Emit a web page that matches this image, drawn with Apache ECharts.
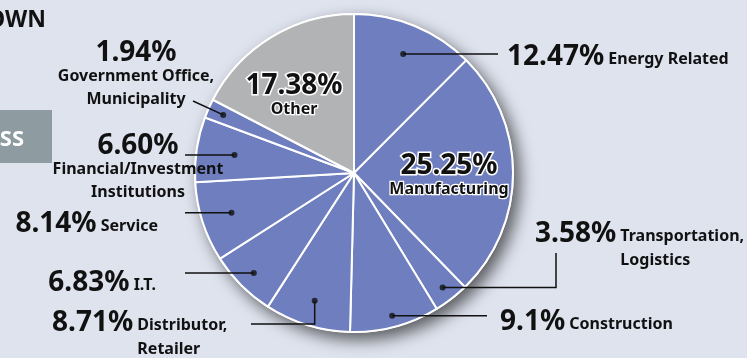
<!DOCTYPE html>
<html>
<head>
<meta charset="utf-8">
<title>Breakdown by industry</title>
<style>
  html, body { margin: 0; padding: 0; background: #dfe3ee; }
  #chart { width: 747px; height: 358px; }
</style>
<script src="https://cdn.jsdelivr.net/npm/echarts@6/dist/echarts.min.js"></script>
</head>
<body>
<div id="chart"></div>
<script>
// data, clockwise from 12 o'clock
const industries = ['Energy Related', 'Manufacturing', 'Transportation, Logistics', 'Construction',
  'Distributor, Retailer', 'I.T.', 'Service', 'Financial/Investment Institutions',
  'Government Office, Municipality', 'Other'];
const shares = [12.47, 25.25, 3.58, 9.1, 8.71, 6.83, 8.14, 6.60, 1.94, 17.38];
const shareLabels = ['12.47%', '25.25%', '3.58%', '9.1%', '8.71%', '6.83%', '8.14%', '6.60%', '1.94%', '17.38%'];
const nameLines = [['Energy Related'], ['Manufacturing'], ['Transportation,', 'Logistics'], ['Construction'],
  ['Distributor,', 'Retailer'], ['I.T.'], ['Service'], ['Financial/Investment', 'Institutions'],
  ['Government Office,', 'Municipality'], ['Other']];

// layout of the labels (pixels), kept apart from the data
const CX = 354, CY = 173, R = 159;
const FONT = 'Noto Sans';
const BLUE = '#6e7ebe', GREY = '#b1b3b5';
const spots = [
  { kind: 'side',   x: 507, y: 45,  align: 'left',   dot: 0.81, bends: [[498, null]] },
  { kind: 'inside', x: 449, y: 154, align: 'center' },
  { kind: 'side',   x: 535, y: 222, align: 'left',   dot: 0.91, bends: [[556, null], [null, 253]] },
  { kind: 'side',   x: 500, y: 310, align: 'left',   dot: 0.93, bends: [[487, null]] },
  { kind: 'side',   x: 52,  y: 311, align: 'left',   dot: 0.84, bends: [[null, 324], [251, null]] },
  { kind: 'side',   x: 156, y: 271, align: 'right',  dot: 0.89, bends: [[185, null]] },
  { kind: 'side',   x: 158, y: 212, align: 'right',  dot: 0.81, bends: [[185, null]] },
  { kind: 'stack',  x: 138, y: 134, align: 'center', dot: 0.76, bends: [[185, null]] },
  { kind: 'stack',  x: 136, y: 41,  align: 'center', dot: 0.90, bends: [[193, 101]] },
  { kind: 'inside', x: 294, y: 74,  align: 'center' }
];

const measure = document.createElement('canvas').getContext('2d');
function textWidth(str, size) {
  measure.font = 'bold ' + size + 'px ' + FONT;
  return measure.measureText(str).width;
}

function makeRich(kind, gap) {
  const outline = kind === 'inside';
  const side = kind === 'side';
  const base = { fontFamily: FONT, fontWeight: 'bold', color: '#111', verticalAlign: 'bottom',
    align: side ? undefined : 'center',
    textBorderColor: outline ? '#fff' : undefined };
  return {
    p: Object.assign({}, base, { fontSize: 28, lineHeight: 26, textBorderWidth: outline ? 3 : 0 }),
    // first name line under a share (stacked labels)
    f: Object.assign({}, base, { fontSize: 16, lineHeight: 17, textBorderWidth: outline ? 2.5 : 0 }),
    // further name lines
    n: Object.assign({}, base, { fontSize: 16, lineHeight: side ? 20 : 23, textBorderWidth: outline ? 2.5 : 0 }),
    // name beside the share
    m: Object.assign({}, base, { fontSize: 16, lineHeight: 20, padding: [0, 0, 4, 0] }),
    gap: { width: gap || 0, fontSize: 16, lineHeight: 20 }
  };
}

function labelText(i) {
  const s = spots[i];
  const lines = nameLines[i];
  if (s.kind === 'side') {
    let t = '{p|' + shareLabels[i] + '} {m|' + lines[0] + '}';
    for (let k = 1; k < lines.length; k++) t += '\n{gap| }{n|' + lines[k] + '}';
    return t;
  }
  return '{p|' + shareLabels[i] + '}' + lines.map((l, k) => '\n{' + (k ? 'n' : 'f') + '|' + l + '}').join('');
}

// mid angle of every slice, in share units, for the leader dots
const dotData = [];
let run = 0;
shares.forEach((v, i) => {
  if (spots[i].dot) dotData.push([spots[i].dot, run + v / 2]);
  run += v;
});

const chart = echarts.init(document.getElementById('chart'));

const option = {
  backgroundColor: '#dfe3ee',
  animation: false,
  polar: { center: [CX, CY], radius: R },
  angleAxis: { type: 'value', min: 0, max: 100, startAngle: 90, clockwise: true, show: false },
  radiusAxis: { type: 'value', min: 0, max: 1, show: false },
  graphic: [
    { type: 'text', style: { x: 46, y: 20, text: 'OWN', align: 'right', verticalAlign: 'middle',
      font: 'bold 23px ' + FONT, fill: '#111' } },
    { type: 'rect', shape: { x: 0, y: 110, width: 52, height: 53 }, style: { fill: '#8e9ba1' } },
    { type: 'text', style: { x: 24, y: 140, text: 'SS', align: 'right', verticalAlign: 'middle',
      font: 'bold 22px ' + FONT, fill: '#fff' } }
  ],
  series: [
    {
      // drop shadow under the whole pie
      type: 'pie', center: [CX, CY], radius: R + 1, silent: true, z: 1,
      label: { show: false }, labelLine: { show: false },
      itemStyle: { color: '#fff', shadowBlur: 16, shadowColor: 'rgba(0,0,0,0.6)', shadowOffsetX: 6, shadowOffsetY: 7 },
      data: [{ value: 1 }]
    },
    {
      // slices
      type: 'pie', center: [CX, CY], radius: R, startAngle: 90, clockwise: true, z: 2, silent: true,
      itemStyle: { borderColor: '#fff', borderWidth: 2 },
      label: { show: false }, labelLine: { show: false },
      data: industries.map((name, i) => ({
        name: name, value: shares[i],
        itemStyle: { color: i === industries.length - 1 ? GREY : BLUE }
      }))
    },
    {
      // same slices, transparent, carrying the labels and leader lines above the pie
      type: 'pie', center: [CX, CY], radius: R, startAngle: 90, clockwise: true, z: 3, silent: true,
      avoidLabelOverlap: false,
      itemStyle: { color: 'rgba(0,0,0,0)', borderWidth: 0 },
      labelLine: { show: true, lineStyle: { color: '#111', width: 1.5 } },
      data: industries.map((name, i) => {
        const s = spots[i];
        const gap = s.kind === 'side' ? textWidth(shareLabels[i], 28) + textWidth(' ', 16) : 0;
        return {
          name: name,
          value: shares[i],
          label: {
            show: true,
            position: s.kind === 'inside' ? 'inside' : 'outside',
            fontFamily: FONT, fontWeight: 'bold', fontSize: 16, color: '#111',
            formatter: labelText(i),
            rich: makeRich(s.kind, gap)
          },
          labelLine: { show: s.kind !== 'inside' }
        };
      }),
      labelLayout: function (params) {
        const s = spots[params.dataIndex];
        const res = { x: s.x, y: s.y, align: s.align, verticalAlign: 'top' };
        if (s.bends && params.labelLinePoints) {
          const edge = params.labelLinePoints[0];
          const pts = [[CX + (edge[0] - CX) * s.dot, CY + (edge[1] - CY) * s.dot]];
          s.bends.forEach(b => {
            const prev = pts[pts.length - 1];
            pts.push([b[0] == null ? prev[0] : b[0], b[1] == null ? prev[1] : b[1]]);
          });
          res.labelLinePoints = pts;
        }
        return res;
      }
    },
    {
      type: 'scatter', coordinateSystem: 'polar', z: 5, silent: true,
      symbol: 'circle', symbolSize: 6,
      itemStyle: { color: '#111' },
      data: dotData
    }
  ]
};

chart.setOption(option);
</script>
</body>
</html>
